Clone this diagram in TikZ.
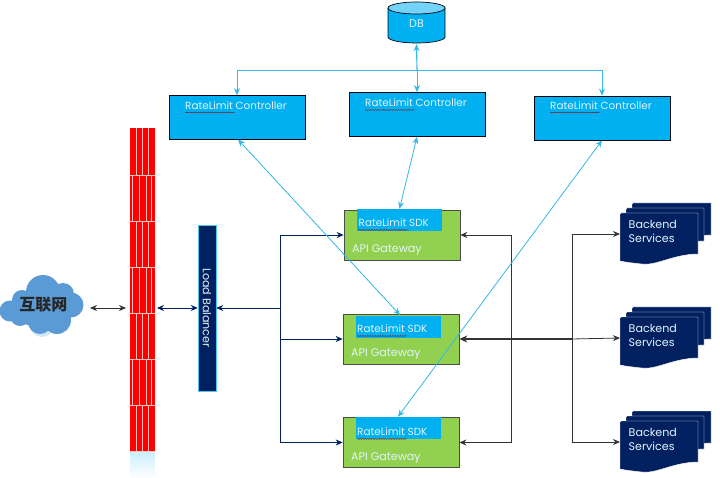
\documentclass[tikz,border=0pt]{standalone}
\usepackage{fontspec}
\setmainfont{Poppins}
\newfontfamily\cjk{Noto Sans CJK SC}
\usetikzlibrary{arrows.meta,decorations.pathmorphing,calc}
\definecolor{cy}{HTML}{00B0F0}
\definecolor{cyl}{HTML}{33B8E8}
\definecolor{navy}{HTML}{002060}
\definecolor{grn}{HTML}{92D050}
\definecolor{txt}{HTML}{E4F4FA}
\definecolor{cloudc}{HTML}{5B9BD5}
\tikzset{
  x=1pt,y=-1pt,
  ctrl/.style={draw=black!80!navy,line width=.7pt,fill=cy,minimum width=136pt,minimum height=44pt,inner sep=0pt},
  gate/.style={draw=black!70,line width=.7pt,fill=grn,minimum width=116pt,minimum height=50pt,inner sep=0pt},
  sdk/.style={fill=cy,minimum width=85pt,minimum height=22pt,inner sep=0pt},
  lbl/.style={text=txt,font=\fontsize{10.4}{12}\selectfont,inner sep=0pt},
  lblb/.style={text=txt,font=\fontsize{11.1}{14}\selectfont,inner sep=0pt},
  squig/.style={draw=red!60!black,line width=.3pt,decorate,decoration={snake,amplitude=.5pt,segment length=2.5pt}},
  cyarrow/.style={draw=cyl,line width=.8pt,{Stealth[length=7pt,width=6pt]}-{Stealth[length=7pt,width=6pt]}},
  navyline/.style={draw=navy,line width=.8pt},
  navytip/.style={navyline,-{Stealth[length=7pt,width=6pt]}},
  blkline/.style={draw=black!80,line width=.8pt},
  blktip/.style={blkline,-{Stealth[length=7pt,width=6pt]}},
}
\newcommand{\docshape}[4]{% x, y top, width, height
  \filldraw[fill=navy,draw=white,line width=.4pt] (#1+1,#2) -- (#1+#3,#2) -- (#1+#3,#2+#4-9)
    .. controls (#1+#3-24,#2+#4-9) and (#1+#3-42,#2+#4+3) .. (#1+22,#2+#4+1)
    .. controls (#1+12,#2+#4) and (#1+5,#2+#4-1) .. (#1,#2+#4-2) -- (#1,#2+1) -- cycle;}
\newcommand{\backend}[2]{% name, dy
  \docshape{632}{203+#2}{79}{41}
  \docshape{626}{208+#2}{78}{42}
  \docshape{620}{213+#2}{78}{50}
  \coordinate (#1) at (620,234+#2);
  \node[lblb,align=left,anchor=north west] (#1t) at (628.5,220+#2) {Backend\\Services};
}
\begin{document}
\begin{tikzpicture}
\useasboundingbox (0,0) rectangle (720,478);
\fill[white] (0,0) rectangle (720,478);

% Firewall
\shade[top color=cy!22,bottom color=white] (130,451) rectangle (154.5,478);
\fill[red] (130,128) rectangle (154.5,451);
\node[minimum width=24.5pt,minimum height=323pt,inner sep=0pt] (fw) at (142.25,289.5) {};
\foreach \r/\a/\b in {128/175/0,175/221/1,221/267/0,267/313/1,313/359/0,359/405/1,405/451/0}{
  \ifnum\b=0
    \foreach \v in {136,142.7,148.5}{\draw[red!25!white,line width=.6pt] (\v,\r) -- (\v,\a);}
  \else
    \foreach \v in {132.7,139.3,146,151.7}{\draw[red!25!white,line width=.6pt] (\v,\r) -- (\v,\a);}
  \fi
  \draw[red!25!white,line width=.6pt] (130,\a) -- (154.5,\a);
}

% Cloud
\fill[cloudc!25!white] (42,325) circle (12);
\fill[cloudc] (43,292) circle (17) (63,294) circle (11) (71,305) circle (12.5)
  (57,320) circle (14) (40,322) circle (12) (20,316) circle (10) (10,311) circle (10.5)
  (22,300) circle (10) (42,308) ellipse (32 and 19);
\node[font=\cjk\bfseries\fontsize{16}{18}\selectfont,text=black!85,inner sep=0pt] (net) at (43.5,305) {互联网};
\coordinate (netr) at (90,308);
\coordinate (fwl) at (126,308);
\coordinate (fwr) at (157,308);

% Load balancer
\node[fill=navy,draw=cy!70,line width=.5pt,minimum width=18pt,minimum height=166pt,inner sep=0pt] (lb) at (207,308) {};
\node[lblb,rotate=-90] (lbt) at (207,308) {Load Balancer};

% DB
\node[minimum width=57pt,minimum height=43pt,inner sep=0pt] (db) at (416.5,22.5) {};
\filldraw[fill=cy,draw=black!75!navy,line width=.7pt] (388,8) -- (388,37) arc[start angle=180,end angle=0,x radius=28.5,y radius=6] -- (445,8);
\filldraw[fill=cy!55!white,draw=black!75!navy,line width=.7pt] (416.5,8) ellipse (28.5 and 6);
\node[lblb] (dbt) at (416.5,24) {DB};

% Controllers
\node[ctrl] (c1) at (237,117.5) {};
\node[ctrl] (c2) at (417,114.5) {};
\node[ctrl] (c3) at (602,118) {};
\node[lbl,anchor=west] (c1t) at (185,105.5) {RateLimit Controller};
\node[lbl,anchor=west] (c2t) at (365,103) {RateLimit Controller};
\node[lbl,anchor=west] (c3t) at (550,105.5) {RateLimit Controller};
\foreach \n in {c1t,c2t,c3t}{\draw[squig] ($(\n.west)+(0,7)$) -- ++(50,0);}

% Gateways
\node[gate] (g1) at (402,235) {};
\node[gate] (g2) at (401,339) {};
\node[gate] (g3) at (401,442.5) {};
\node[sdk] (s1) at (399.5,220) {};
\node[sdk] (s2) at (398,326.5) {};
\node[sdk] (s3) at (398,428) {};
\node[lbl,anchor=west] (s1t) at (358.5,223) {RateLimit SDK};
\node[lbl,anchor=west] (s2t) at (357,329) {RateLimit SDK};
\node[lbl,anchor=west] (s3t) at (357,432) {RateLimit SDK};
\foreach \n in {s1t,s2t,s3t}{\draw[squig] ($(\n.west)+(0,7)$) -- ++(50,0);}
\node[lblb,anchor=west] (g1t) at (352,250.5) {API Gateway};
\node[lblb,anchor=west] (g2t) at (351,354.5) {API Gateway};
\node[lblb,anchor=west] (g3t) at (351,458.5) {API Gateway};

% Backends
\backend{b1}{0}
\backend{b2}{104}
\backend{b3}{208}

% Junctions
\coordinate (jdb) at (417,70);
\coordinate (jl) at (280,308);
\coordinate (jr) at (511,339);
\coordinate (js) at (572,339);
\coordinate (c1b) at (238,139.5);
\coordinate (s2n) at (400,315);

% DB links
\draw[draw=cyl,line width=1.1pt,{Stealth[length=7pt,width=6pt]}-] (db.south) -- (jdb);
\draw[draw=cyl,line width=.8pt,-{Stealth[length=7pt,width=6pt]}] (jdb) -- (c2.north);
\draw[draw=cyl,line width=.8pt,-{Stealth[length=7pt,width=6pt]}] (jdb) -| (c1.north);
\draw[draw=cyl,line width=.8pt,-{Stealth[length=7pt,width=6pt]}] (jdb) -| (c3.north);

% Left links
\draw[blkline,{Stealth[length=7pt,width=6pt]}-{Stealth[length=7pt,width=6pt]}] (netr) -- (fwl);
\draw[navyline,{Stealth[length=7pt,width=6pt]}-{Stealth[length=7pt,width=6pt]}] (fwr) -- (lb.west);
\draw[navyline,{Stealth[length=7pt,width=6pt]}-] (lb.east) -- (jl);
\draw[navytip] (jl) |- (g1.west);
\draw[navytip] (jl) |- (g2.west);
\draw[navytip] (jl) |- (g3.west);

% Right links
\draw[blktip] (jr) |- (g1.east);
\draw[blktip] (jr) |- (g3.east);
\draw[blkline,line width=1.3pt,{Stealth[length=8pt,width=7pt]}-] (g2.east) -- (js);
\draw[blktip] (js) |- (b1);
\draw[blktip] (js) -- (b2);
\draw[blktip] (js) |- (b3);

% Rate limit links
\draw[cyarrow] (c1b) -- (s2n);
\draw[cyarrow] (c2.south) -- (s1.north);
\draw[cyarrow] (c3.south) -- (s3.north);
\end{tikzpicture}
\end{document}
